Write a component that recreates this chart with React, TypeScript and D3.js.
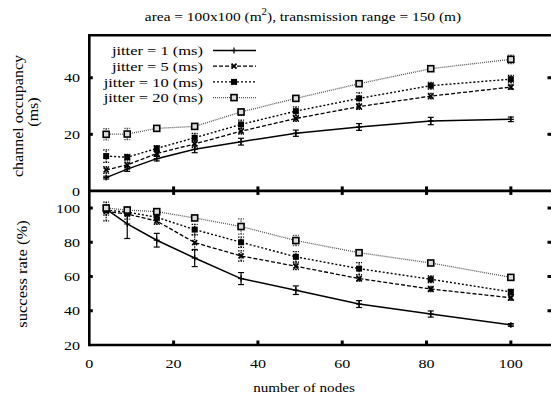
import React from "react";
import * as d3 from "d3";

const nodes = [4, 9, 16, 25, 36, 49, 64, 81, 100];
const seriesNames = ["jitter = 1 (ms)", "jitter = 5 (ms)", "jitter = 10 (ms)", "jitter = 20 (ms)"];

const occJ1 = [4.7, 7.7, 11.4, 14.7, 17.4, 20.4, 22.6, 24.7, 25.3];
const occJ5 = [7.4, 9.2, 13.2, 16.6, 21.1, 25.6, 29.8, 33.5, 36.7];
const occJ10 = [12.3, 11.9, 15.0, 18.8, 23.5, 28.2, 32.7, 37.2, 39.5];
const occJ20 = [20.0, 20.1, 22.1, 22.8, 27.9, 32.7, 37.9, 43.2, 46.5];
const occErrJ1 = [0.5, 0.8, 0.8, 1.2, 1.2, 1.1, 1.2, 1.3, 0.8];
const occErrJ5 = [1.2, 1.0, 1.0, 1.2, 1.0, 1.0, 1.0, 1.0, 0.8];
const occErrJ10 = [2.2, 1.0, 1.0, 1.5, 1.5, 1.5, 2.0, 1.2, 1.3];
const occErrJ20 = [2.0, 2.0, 0.8, 1.0, 1.2, 1.0, 1.0, 0.8, 1.5];

const sucJ1 = [99.4, 90.7, 81.2, 70.8, 58.8, 52.0, 43.9, 38.1, 31.7];
const sucJ5 = [98.0, 96.5, 92.4, 79.8, 72.0, 66.0, 58.8, 52.7, 47.6];
const sucJ10 = [98.8, 97.6, 94.6, 87.4, 80.0, 71.5, 64.6, 58.4, 51.0];
const sucJ20 = [100.0, 98.8, 97.9, 94.2, 89.2, 81.0, 73.9, 67.9, 59.5];
const sucErrJ1 = [1.5, 8.5, 4.0, 5.0, 3.5, 2.5, 2.0, 1.8, 0.8];
const sucErrJ5 = [5.5, 3.0, 2.0, 4.5, 3.0, 2.0, 1.5, 1.5, 1.5];
const sucErrJ10 = [3.0, 2.0, 2.0, 3.0, 3.0, 3.0, 3.5, 2.0, 1.5];
const sucErrJ20 = [1.5, 2.0, 1.5, 1.5, 4.5, 3.0, 1.5, 1.0, 1.0];

const xTicks = [0, 20, 40, 60, 80, 100];
const occTicks = [0, 20, 40];
const sucTicks = [20, 40, 60, 80, 100];

const styles = [
  { dash: "none", color: "#000", width: 1.5, marker: "plus" },
  { dash: "4,2", color: "#000", width: 1.3, marker: "cross" },
  { dash: "2,2", color: "#000", width: 1.4, marker: "fsquare" },
  { dash: "1,1", color: "#555", width: 1.3, marker: "osquare" },
];

const FONT = "Liberation Serif, Times New Roman, DejaVu Serif, serif";

function Marker({ kind, x, y }: { kind: string; x: number; y: number }) {
  if (kind === "plus")
    return (
      <g stroke="#000" strokeWidth={1.2}>
        <line x1={x - 3} x2={x + 3} y1={y} y2={y} />
        <line x1={x} x2={x} y1={y - 3} y2={y + 3} />
      </g>
    );
  if (kind === "cross")
    return (
      <g stroke="#000" strokeWidth={1.8}>
        <line x1={x - 2.5} x2={x + 2.5} y1={y - 2.5} y2={y + 2.5} />
        <line x1={x - 2.5} x2={x + 2.5} y1={y + 2.5} y2={y - 2.5} />
      </g>
    );
  if (kind === "fsquare") return <rect x={x - 3} y={y - 3} width={6} height={6} fill="#000" />;
  return <rect x={x - 3} y={y - 3} width={6} height={6} fill="#ddd" stroke="#000" strokeWidth={1.6} />;
}

function SText({
  x,
  y,
  sx,
  size,
  anchor,
  children,
}: {
  x: number;
  y: number;
  sx: number;
  size: number;
  anchor: string;
  children: React.ReactNode;
}) {
  return (
    <text transform={`translate(${x},${y}) scale(${sx},1)`} fontSize={size} textAnchor={anchor}>
      {children}
    </text>
  );
}

export default function App() {
  const left = 89.3;
  const right = 553;
  const topT = 35.3;
  const mid = 190.9;
  const bot = 345;

  const x = d3.scaleLinear().domain([0, 110]).range([left, right]);
  const yOcc = d3.scaleLinear().domain([0, 55]).range([mid, topT]);
  const ySuc = d3.scaleLinear().domain([20, 110]).range([bot, mid]);

  const occ = [occJ1, occJ5, occJ10, occJ20];
  const occErr = [occErrJ1, occErrJ5, occErrJ10, occErrJ20];
  const suc = [sucJ1, sucJ5, sucJ10, sucJ20];
  const sucErr = [sucErrJ1, sucErrJ5, sucErrJ10, sucErrJ20];

  const drawPanel = (data: number[][], errs: number[][], y: d3.ScaleLinear<number, number>, key: string) => {
    const line = d3
      .line<number>()
      .x((_, i) => x(nodes[i]))
      .y((d) => y(d));
    return (
      <g key={key}>
        {data.map((s, si) => {
          const st = styles[si];
          return (
            <g key={si}>
              <path d={line(s) || ""} fill="none" stroke={st.color} strokeWidth={st.width} strokeDasharray={st.dash} />
              {s.map((v, i) => {
                const e = errs[si][i];
                const cx = x(nodes[i]);
                return (
                  <g key={i} stroke={st.color} strokeWidth={1.2} strokeDasharray={st.dash === "none" ? "none" : "1.5,1"}>
                    <line x1={cx} x2={cx} y1={y(v - e)} y2={y(v + e)} />
                    <line x1={cx - 3} x2={cx + 3} y1={y(v - e)} y2={y(v - e)} />
                    <line x1={cx - 3} x2={cx + 3} y1={y(v + e)} y2={y(v + e)} />
                  </g>
                );
              })}
              {s.map((v, i) => (
                <Marker key={"m" + i} kind={st.marker} x={x(nodes[i])} y={y(v)} />
              ))}
            </g>
          );
        })}
      </g>
    );
  };

  const legendY0 = 50.5;
  const legendDy = 15.7;

  return (
    <svg
      width={551}
      height={397}
      style={{ position: "absolute", left: 0, top: 0, background: "#fff", fontFamily: FONT }}
    >
      <rect x={0} y={0} width={551} height={397} fill="#fff" />
      <SText x={303} y={20.5} sx={1.14} size={13.5} anchor="middle">
        area = 100x100 (m<tspan dy={-5.5} fontSize={9.5}>2</tspan>
        <tspan dy={5.5}>), transmission range = 150 (m)</tspan>
      </SText>

      {/* ticks */}
      <g fill="#000">
        {occTicks.filter((t) => t > 0).map((t) => (
          <g key={"o" + t}>
            <rect x={left} y={yOcc(t) - 1.5} width={3.5} height={3} />
            <rect x={right - 5.5} y={yOcc(t) - 1.5} width={3.5} height={3} />
          </g>
        ))}
        {sucTicks.filter((t) => t > 20).map((t) => (
          <g key={"s" + t}>
            <rect x={left} y={ySuc(t) - 1.5} width={3.5} height={3} />
            <rect x={right - 5.5} y={ySuc(t) - 1.5} width={3.5} height={3} />
          </g>
        ))}
        {xTicks.filter((t) => t > 0).map((t) => (
          <g key={"x" + t}>
            <rect x={x(t) - 1.5} y={mid - 4.5} width={3} height={4} />
            <rect x={x(t) - 1.5} y={mid} width={3} height={4} />
            <rect x={x(t) - 1.5} y={bot - 4.5} width={3} height={4} />
          </g>
        ))}
      </g>

      {drawPanel(occ, occErr, yOcc, "occ")}
      {drawPanel(suc, sucErr, ySuc, "suc")}

      {/* frame */}
      <g stroke="#000" strokeWidth={2.6} fill="none">
        <line x1={left} x2={right} y1={topT} y2={topT} />
        <line x1={left} x2={right} y1={mid} y2={mid} />
        <line x1={left} x2={right} y1={bot} y2={bot} />
        <line x1={left} x2={left} y1={topT - 1.3} y2={bot + 1.3} />
      </g>

      {/* tick labels */}
      {occTicks.map((t) => (
        <SText key={"ol" + t} x={80} y={yOcc(t) + 4.6} sx={1.19} size={13.5} anchor="end">
          {t}
        </SText>
      ))}
      {sucTicks.map((t) => (
        <SText key={"sl" + t} x={80} y={ySuc(t) + 4.6} sx={1.19} size={13.5} anchor="end">
          {t}
        </SText>
      ))}
      {xTicks.map((t) => (
        <SText key={"xl" + t} x={x(t)} y={368} sx={1.19} size={13.5} anchor="middle">
          {t}
        </SText>
      ))}
      <SText x={304} y={391.5} sx={1.12} size={13.5} anchor="middle">
        number of nodes
      </SText>
      <text transform="translate(23,116) rotate(-90) scale(1.16,1.05)" fontSize={13.8} textAnchor="middle">
        channel occupancy
      </text>
      <text transform="translate(37.5,112) rotate(-90) scale(1.16,1.05)" fontSize={13.8} textAnchor="middle">
        (ms)
      </text>
      <text transform="translate(27,274) rotate(-90) scale(1.2,1.05)" fontSize={13.8} textAnchor="middle">
        success rate (%)
      </text>

      {/* legend */}
      {seriesNames.map((n, i) => {
        const st = styles[i];
        const ly = legendY0 + i * legendDy;
        return (
          <g key={"lg" + i}>
            <SText x={203} y={ly + 4.6} sx={1.22} size={13.5} anchor="end">
              {n}
            </SText>
            <line x1={213} x2={256} y1={ly} y2={ly} stroke={st.color} strokeWidth={st.width} strokeDasharray={st.dash} />
            <Marker kind={st.marker} x={234} y={ly} />
          </g>
        );
      })}
    </svg>
  );
}
